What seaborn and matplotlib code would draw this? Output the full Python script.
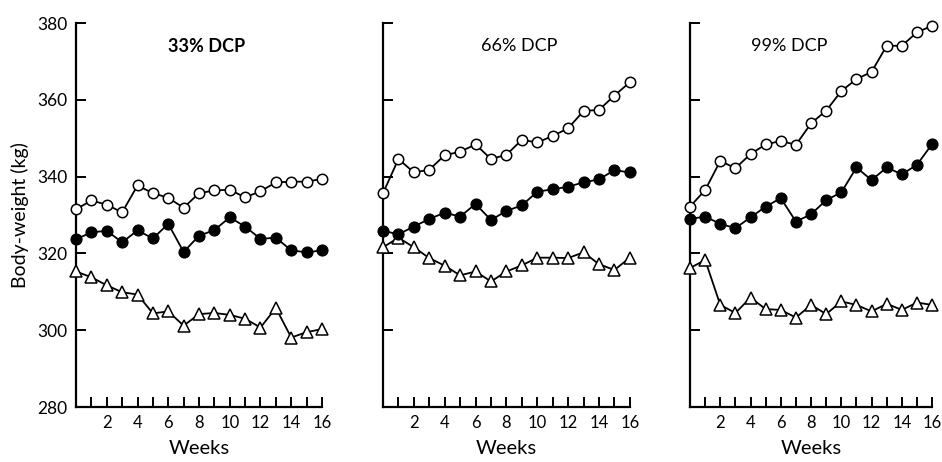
import matplotlib
matplotlib.use("Agg")
import matplotlib.pyplot as plt
import seaborn as sns

weeks = list(range(17))

titles = ["33% DCP", "66% DCP", "99% DCP"]

# open circles
open_33 = [331.5, 333.8, 332.7, 330.7, 337.7, 335.7, 334.5, 331.9, 335.7, 336.4, 336.6, 334.6, 336.2, 338.5, 338.7, 338.7, 339.4]
open_66 = [335.7, 344.6, 341.1, 341.8, 345.6, 346.5, 348.4, 344.6, 345.7, 349.6, 348.9, 350.6, 352.6, 357.1, 357.4, 361.1, 364.6]
open_99 = [332.2, 336.5, 344.1, 342.2, 345.9, 348.4, 349.3, 348.3, 353.9, 357.2, 362.3, 365.4, 367.3, 374.1, 374.1, 377.6, 379.3]

# filled circles
filled_33 = [323.7, 325.5, 325.9, 322.9, 326.0, 323.9, 327.7, 320.4, 324.6, 326.1, 329.4, 327.0, 323.8, 324.1, 320.8, 320.3, 320.8]
filled_66 = [325.9, 325.0, 327.0, 329.0, 330.6, 329.6, 332.9, 328.7, 331.1, 332.5, 336.1, 336.7, 337.4, 338.5, 339.3, 341.7, 341.1]
filled_99 = [329.0, 329.6, 327.7, 326.6, 329.4, 332.2, 334.4, 328.3, 330.2, 333.9, 335.9, 342.4, 339.1, 342.4, 340.6, 343.1, 348.5]

# triangles
tri_33 = [315.3, 313.8, 311.7, 309.9, 309.3, 304.4, 304.9, 301.2, 304.2, 304.5, 304.0, 303.0, 300.7, 305.8, 298.1, 299.5, 300.3]
tri_66 = [321.6, 324.1, 321.6, 318.8, 316.8, 314.3, 315.3, 312.7, 315.3, 316.9, 318.9, 318.9, 318.8, 320.3, 317.2, 315.7, 318.9]
tri_99 = [316.2, 318.3, 306.6, 304.5, 308.5, 305.5, 305.3, 303.3, 306.6, 304.2, 307.5, 306.6, 304.9, 306.9, 305.3, 307.2, 306.6]

panels = [
    (open_33, filled_33, tri_33),
    (open_66, filled_66, tri_66),
    (open_99, filled_99, tri_99),
]

sns.set_style("ticks")
plt.rcParams['font.family'] = ['Lato', 'DejaVu Sans']

fig = plt.figure(figsize=(9.42, 4.62), dpi=100)
lefts = [0.0807, 0.4066, 0.7325]
widths = [0.2611, 0.2620, 0.2570]
title_x = [0.53, 0.55, 0.41]

for i, (op, fi, tr) in enumerate(panels):
    ax = fig.add_axes([lefts[i], 0.119, widths[i], 0.831])
    line_kw = dict(color="black", linewidth=1.3, clip_on=False, zorder=3)
    sns.lineplot(x=weeks, y=tr, ax=ax, marker="^", markersize=8,
                 markerfacecolor="white", markeredgecolor="black",
                 markeredgewidth=1.1, **line_kw)
    sns.lineplot(x=weeks, y=fi, ax=ax, marker="o", markersize=8,
                 markerfacecolor="black", markeredgecolor="black", **line_kw)
    sns.lineplot(x=weeks, y=op, ax=ax, marker="o", markersize=7.5,
                 markerfacecolor="white", markeredgecolor="black",
                 markeredgewidth=1.1, **line_kw)

    ax.set_xlim(0, 16)
    ax.set_ylim(280, 380)
    sns.despine(ax=ax)
    for s in ["left", "bottom"]:
        ax.spines[s].set_linewidth(1.6)
        ax.spines[s].set_color("black")

    ax.set_xticks(range(1, 17))
    ax.set_xticklabels([str(w) if w % 2 == 0 else "" for w in range(1, 17)])
    ax.set_yticks(range(280, 381, 20))
    ax.tick_params(axis="both", direction="in", length=7.5, width=1.4,
                   color="black", labelsize=12, labelcolor="black")
    ax.tick_params(axis="x", pad=6)
    ax.tick_params(axis="y", pad=6, labelsize=12.5)
    if i == 0:
        ax.set_ylabel("Body-weight (kg)", fontsize=14, color="black", labelpad=6)
    else:
        ax.set_yticklabels([])
        ax.set_ylabel("")
    ax.set_xlabel("Weeks", fontsize=14.5, color="black", labelpad=6)
    ax.text(title_x[i], 0.94, titles[i], transform=ax.transAxes,
            ha="center", va="center", fontsize=13,
            fontweight="bold" if i == 0 else "normal", color="black")

fig.savefig("out.png", dpi=100)
